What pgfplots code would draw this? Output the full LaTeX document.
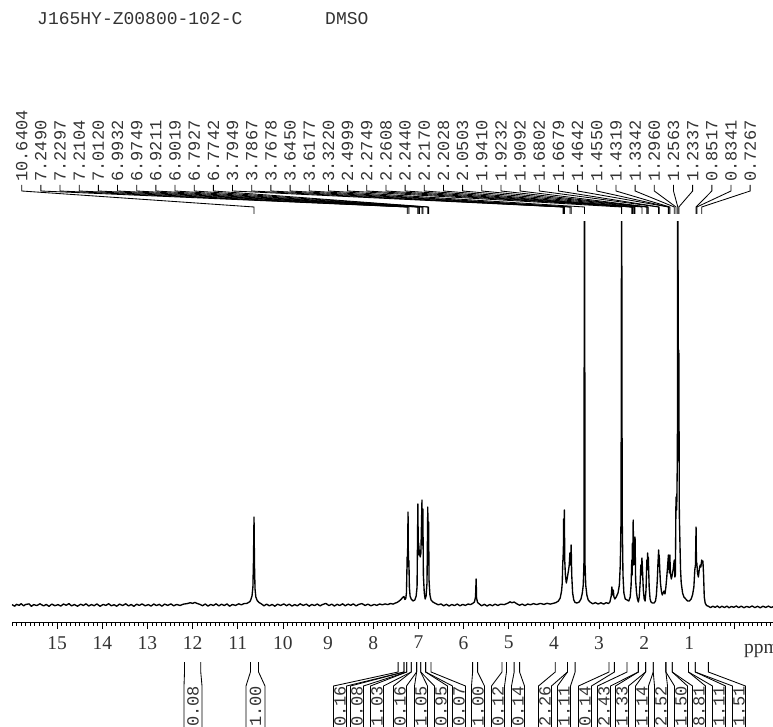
\documentclass[border=0pt]{standalone}
\usepackage{fontspec}
\setmainfont{Liberation Serif}
\newfontfamily\monofont{Liberation Mono}
\usepackage{pgfplots}
\pgfplotsset{compat=1.18}

\begin{document}
\begin{tikzpicture}[x=1pt,y=1pt]
\begin{axis}[
  name=spec,
  at={(773pt,104pt)}, anchor=south east,
  scale only axis, width=761pt, height=400pt,
  xmin=-0.852, xmax=16, x dir=reverse,
  ymin=-17, ymax=383,
  axis x line*=bottom, axis y line=none,
  axis line style={line width=1pt, black},
  xtick={0,...,15},
  xticklabels={{},1,2,3,4,5,6,7,8,9,10,11,12,13,14,15},
  minor xtick={-0.8,-0.7,...,15.95},
  tick align=outside,
  major tick length=7pt, minor tick length=3.5pt,
  every tick/.style={black, line width=0.8pt},
  /pgf/number format/assume math mode=true,
  xticklabel style={font=\fontsize{19.5}{20}\selectfont, text=black!80, anchor=north, inner sep=0pt, yshift=-7pt},
]
% 1H spectrum, intensity above baseline
\addplot[black, line width=1.35pt, line join=round, mark=none] coordinates {
(16.00,0.4)(15.94,-1.2)(15.90,0.7)(15.84,-0.4)(15.80,1.3)(15.74,-0.8)(15.70,0.5)(15.62,1.1)(15.57,-1.3)(15.52,0.4)
(15.45,-0.6)(15.38,1.2)(15.30,-0.9)(15.24,0.6)(15.18,-1.4)(15.12,0.9)(15.05,-0.7)(14.98,0.4)(14.92,-1.1)(14.86,1.0)
(14.80,-0.3)(14.74,1.4)(14.68,-0.9)(14.62,0.5)(14.55,-1.2)(14.48,0.8)(14.42,-0.5)(14.36,1.2)(14.30,-1.0)(14.24,0.4)
(14.18,-0.7)(14.12,1.1)(14.05,-1.3)(13.98,0.6)(13.92,-0.4)(13.86,1.3)(13.80,-0.8)(13.74,0.3)(13.68,-1.2)(13.62,0.9)
(13.55,-0.5)(13.48,1.2)(13.42,-0.9)(13.36,0.5)(13.30,-1.3)(13.24,0.8)(13.18,-0.4)(13.12,1.1)(13.05,-0.8)(12.98,0.4)
(12.92,-1.1)(12.86,1.0)(12.80,-0.6)(12.74,0.7)(12.68,-1.2)(12.62,0.9)(12.55,-0.4)(12.48,1.1)(12.42,-0.8)(12.35,0.6)
(12.28,-0.5)(12.20,0.9)(12.12,1.4)(12.05,2.3)(12.00,1.6)(11.95,2.6)(11.90,1.5)(11.85,0.8)(11.78,-0.7)(11.72,1.0)
(11.66,-1.1)(11.60,0.6)(11.54,-0.5)(11.48,1.2)(11.42,-0.9)(11.36,0.8)(11.30,-0.6)(11.24,1.1)(11.18,-1.2)(11.12,0.5)
(11.05,-0.4)(10.98,1.2)(10.92,0.2)(10.86,1.4)(10.80,1.6)(10.76,2.6)(10.73,3.5)(10.71,5.5)(10.685,9)(10.665,18)
(10.652,45)(10.6404,88)(10.630,40)(10.618,16)(10.60,8)(10.57,4.5)(10.53,2.5)(10.48,1.2)(10.42,-0.8)(10.36,0.9)
(10.30,-0.9)(10.24,0.6)(10.18,-1.2)(10.12,0.8)(10.05,-0.5)(9.98,1.1)(9.92,-0.7)(9.86,0.9)(9.80,-1.1)(9.74,0.4)
(9.68,-0.8)(9.62,1.2)(9.55,-0.4)(9.48,0.9)(9.42,-1.2)(9.36,0.6)(9.30,-0.6)(9.24,1.0)(9.18,-0.9)(9.12,0.5)
(9.05,1.6)(8.98,-0.6)(8.92,0.9)(8.86,-1.0)(8.80,0.7)(8.74,-0.5)(8.68,1.2)(8.62,-0.8)(8.56,0.9)(8.50,-0.3)
(8.44,1.1)(8.38,-0.9)(8.32,0.6)(8.25,1.4)(8.18,-0.5)(8.12,0.9)(8.05,-0.8)(7.98,0.6)(7.92,-0.4)(7.86,1.0)
(7.80,0.2)(7.74,1.1)(7.68,0.4)(7.62,1.5)(7.56,0.9)(7.52,1.8)(7.47,2.6)(7.42,4.2)(7.38,5.8)(7.35,7.5)
(7.32,8.5)(7.30,5.5)(7.28,6.5)(7.265,12)(7.257,30)(7.2490,48)(7.242,38)(7.2297,93)(7.222,45)(7.2104,44)
(7.200,18)(7.185,9)(7.16,6)(7.12,4)(7.08,5)(7.05,9)(7.03,18)(7.0120,101)(7.003,55)(6.9932,62)
(6.984,50)(6.9749,55)(6.960,48)(6.945,52)(6.9211,105)(6.912,60)(6.9019,96)(6.890,30)(6.870,12)(6.850,6)
(6.830,9)(6.810,22)(6.7927,98)(6.784,50)(6.7742,83)(6.765,25)(6.745,10)(6.72,5)(6.68,3)(6.62,1.5)
(6.56,0.2)(6.50,1.1)(6.44,-0.8)(6.38,0.7)(6.32,-1.0)(6.26,0.5)(6.20,-0.6)(6.14,1.0)(6.08,-0.8)(6.02,0.6)
(5.96,-0.4)(5.90,1.0)(5.85,0.4)(5.80,1.5)(5.76,3)(5.735,8)(5.722,26)(5.712,7)(5.69,2.5)(5.65,1.0)
(5.60,-0.8)(5.54,0.7)(5.48,-1.0)(5.42,0.5)(5.36,-0.7)(5.30,0.9)(5.24,-0.5)(5.18,0.8)(5.10,0.4)(5.02,1.8)
(4.97,3.2)(4.93,2.2)(4.88,3.0)(4.82,1.2)(4.76,-0.2)(4.70,0.9)(4.64,-0.6)(4.58,1.0)(4.52,0.2)(4.45,1.4)
(4.38,0.4)(4.30,1.6)(4.22,0.6)(4.15,1.7)(4.08,0.9)(4.00,1.8)(3.95,2.5)(3.90,4)(3.86,7)(3.83,14)
(3.815,22)(3.805,40)(3.7949,50)(3.790,45)(3.7867,86)(3.778,60)(3.7678,95)(3.760,45)(3.745,30)(3.725,22)
(3.70,28)(3.675,35)(3.66,40)(3.6450,52)(3.632,40)(3.6177,60)(3.605,30)(3.585,12)(3.56,5)(3.53,2.5)
(3.49,2)(3.44,3)(3.40,6)(3.37,12)(3.35,20)(3.335,40)(3.3220,500)(3.310,40)(3.295,20)(3.27,10)
(3.24,5)(3.20,3)(3.14,1.2)(3.08,2.4)(3.02,1.0)(2.96,2.2)(2.90,0.9)(2.84,2.3)(2.79,1.5)(2.76,3)
(2.73,9)(2.715,18)(2.70,10)(2.685,15)(2.67,8)(2.65,6)(2.62,8)(2.58,12)(2.55,20)(2.53,40)
(2.515,80)(2.508,198)(2.4999,500)(2.492,198)(2.485,80)(2.47,30)(2.45,12)(2.42,6)(2.38,5)(2.34,4)
(2.31,8)(2.29,20)(2.2749,45)(2.2685,30)(2.2608,62)(2.252,40)(2.2440,85)(2.232,40)(2.2170,55)(2.210,42)
(2.2028,68)(2.19,25)(2.17,12)(2.15,6)(2.13,3)(2.11,8)(2.09,22)(2.075,40)(2.062,30)(2.0503,47)
(2.035,32)(2.02,15)(2.00,6)(1.98,4)(1.96,15)(1.9410,45)(1.932,35)(1.9232,52)(1.915,38)(1.9092,48)
(1.89,18)(1.87,6)(1.85,3)(1.82,2)(1.78,2)(1.75,4)(1.73,10)(1.71,25)(1.695,42)(1.6802,55)
(1.674,45)(1.6679,50)(1.655,35)(1.64,22)(1.62,14)(1.60,10)(1.58,12)(1.56,14)(1.54,11)(1.52,18)
(1.50,28)(1.48,40)(1.4642,50)(1.460,40)(1.4550,46)(1.445,32)(1.4319,50)(1.42,32)(1.40,26)(1.38,30)
(1.36,35)(1.3342,45)(1.32,28)(1.31,30)(1.2960,108)(1.28,95)(1.265,150)(1.2563,500)(1.245,200)(1.2337,255)
(1.222,90)(1.21,65)(1.195,35)(1.18,22)(1.15,12)(1.12,8)(1.08,6)(1.04,4)(1.00,4)(0.96,6)
(0.93,10)(0.90,18)(0.88,35)(0.865,40)(0.8517,78)(0.843,40)(0.8341,42)(0.82,32)(0.80,28)(0.78,36)
(0.76,40)(0.745,38)(0.7267,45)(0.715,42)(0.70,44)(0.685,30)(0.67,8)(0.65,2)(0.62,-0.5)(0.58,-1.2)
(0.53,-2.6)(0.48,-1.2)(0.43,-2.4)(0.38,-1.0)(0.33,-2.7)(0.28,-1.3)(0.22,-2.5)(0.17,-1.1)(0.12,-2.8)(0.07,-1.4)
(0.02,-2.3)(-0.04,-1.0)(-0.09,-2.6)(-0.15,-1.2)(-0.21,-2.7)(-0.27,-1.4)(-0.33,-2.4)(-0.39,-1.0)(-0.45,-2.6)(-0.51,-1.3)
(-0.57,-2.8)(-0.63,-1.2)(-0.69,-2.4)(-0.75,-1.1)(-0.81,-2.5)(-0.86,-1.6)
};
\end{axis}

% axis unit label at the right end of the scale
\node[anchor=base west, inner sep=0pt, font=\fontsize{19.5}{20}\selectfont, text=black!80] at (744,73) {ppm};

% sample name and solvent
\node[anchor=west, inner sep=0pt, font=\monofont\fontsize{18}{18}\selectfont, text=black!80] at (37,707.5) {J165HY-Z00800-102-C};
\node[anchor=west, inner sep=0pt, font=\monofont\fontsize{18}{18}\selectfont, text=black!80] at (325,707.5) {DMSO};

% peak picking labels with leader lines to the peak positions (ppm -> x: 12+(16-ppm)*45.158)
\foreach [count=\i from 0] \p in {10.6404,7.2490,7.2297,7.2104,7.0120,6.9932,6.9749,6.9211,6.9019,6.7927,6.7742,
  3.7949,3.7867,3.7678,3.6450,3.6177,3.3220,2.4999,2.2749,2.2608,2.2440,2.2170,2.2028,2.0503,1.9410,1.9232,
  1.9092,1.6802,1.6679,1.4642,1.4550,1.4319,1.3342,1.2960,1.2563,1.2337,0.8517,0.8341,0.7267} {
  \draw[black, line width=0.85pt] ({21.7+\i*19.17},541) -- ({21.7+\i*19.17},535)
     -- ({12+(16-\p)*45.158},519) -- ({12+(16-\p)*45.158},512);
  \node[rotate=90, anchor=west, inner sep=0pt, font=\monofont\fontsize{17}{17}\selectfont, text=black!80]
     at ({21.7+\i*19.17},544) {\p};
}

% integrals: left ppm / right ppm / box centre / box half width / value
\foreach \a/\b/\c/\w/\t in {12.18/11.82/193/9/0.08, 10.72/10.54/255.5/9.5/1.00,
  7.45/7.32/340/6.5/0.16, 7.32/7.26/357/6.5/0.08, 7.26/7.16/377/6.5/1.03, 7.16/7.04/400/6.5/0.16,
  7.04/6.95/421/6.5/1.05, 6.95/6.84/441/6.5/0.95, 6.84/6.72/459/6.5/0.07, 5.80/5.69/478/6.5/1.00,
  5.15/5.05/498/6.5/0.12, 4.88/4.76/518/6.5/0.14, 3.97/3.70/545/6.5/2.26, 3.70/3.53/564/6.5/1.11,
  2.78/2.66/585/6.5/0.14, 2.38/2.13/604/6.5/2.43, 2.13/1.97/622/6.5/1.33, 1.97/1.80/642/6.5/1.14,
  1.80/1.52/661/6.5/2.52, 1.52/1.38/681/6.5/1.50, 1.38/1.02/699/6.5/8.81, 1.02/0.87/719/6.5/1.11,
  0.87/0.58/739/6.5/1.51} {
  \draw[black, line width=0.85pt] ({12+(16-\a)*45.158},64) -- ++(0,-10) -- ({\c-\w},40) -- ({\c-\w},-12);
  \draw[black, line width=0.85pt] ({12+(16-\b)*45.158},64) -- ++(0,-10) -- ({\c+\w},40) -- ({\c+\w},-12);
  \node[rotate=90, anchor=west, inner sep=0pt, font=\monofont\fontsize{17}{17}\selectfont, text=black!80]
     at (\c,-1) {\t};
}

\pgfresetboundingbox
\useasboundingbox (0,0) rectangle (773,726);
\end{tikzpicture}
\end{document}
